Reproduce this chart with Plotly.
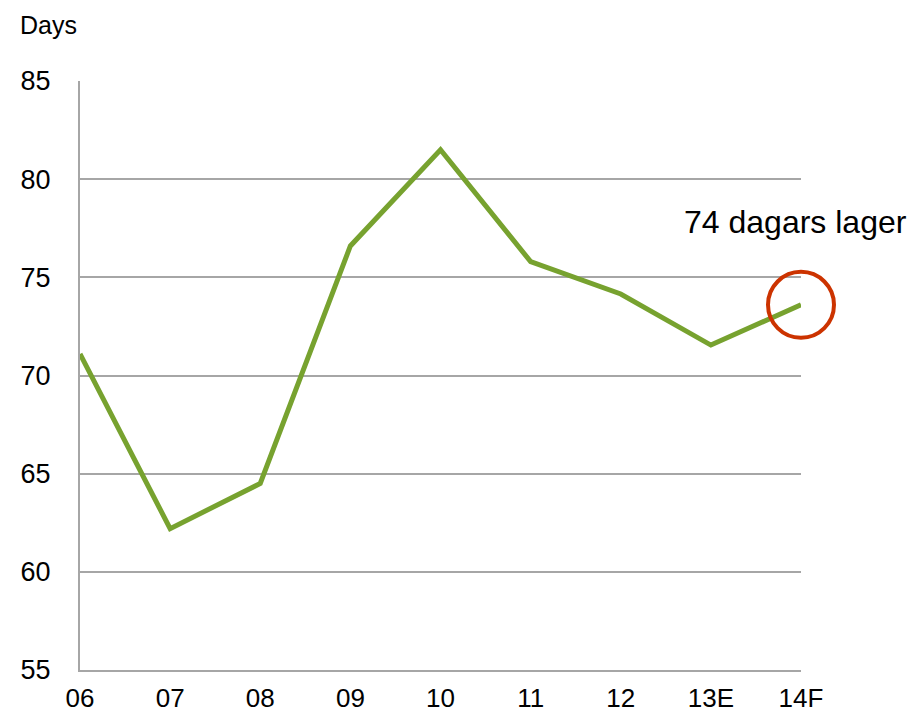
import plotly.graph_objects as go

years = ["06", "07", "08", "09", "10", "11", "12", "13E", "14F"]
days = [71.1, 62.2, 64.5, 76.6, 81.5, 75.8, 74.15, 71.55, 73.6]
y_ticks = [55, 60, 65, 70, 75, 80, 85]

FONT = "Liberation Sans, Arial, sans-serif"
GREEN = "#77A22F"
RED = "#CC3300"
GRID = "#A6A6A6"

fig = go.Figure()
fig.add_trace(go.Scatter(
    x=list(range(len(years))), y=days, mode="lines",
    line=dict(color=GREEN, width=5), hoverinfo="skip", showlegend=False,
))
fig.add_trace(go.Scatter(
    x=[len(years) - 1], y=[days[-1]], mode="markers",
    marker=dict(symbol="circle-open", size=66, color=RED, line=dict(color=RED, width=4)),
    cliponaxis=False, hoverinfo="skip", showlegend=False,
))

fig.update_layout(
    width=909, height=706,
    margin=dict(l=72, r=116, t=73, b=44, autoexpand=False),
    paper_bgcolor="white", plot_bgcolor="white",
    font=dict(family=FONT, size=27, color="black"),
    xaxis=dict(
        range=[0, len(years) - 1], tickmode="array",
        tickvals=list(range(len(years))), ticktext=years,
        showgrid=False, zeroline=False, showline=True, linecolor=GRID, linewidth=2,
        ticks="outside", ticklen=4, tickcolor="rgba(0,0,0,0)",
        tickfont=dict(size=26), automargin=False,
    ),
    yaxis=dict(
        range=[55, 85], tickvals=y_ticks,
        showgrid=True, gridcolor=GRID, gridwidth=2, zeroline=False,
        showline=True, linecolor=GRID, linewidth=2,
        ticks="outside", ticklen=22, tickcolor="rgba(0,0,0,0)",
        tickfont=dict(size=27), automargin=False,
    ),
    annotations=[
        dict(text="Days", xref="paper", yref="paper", x=-62 / 721, y=1 + 72 / 589,
             xanchor="left", yanchor="top", showarrow=False, font=dict(size=25)),
        dict(text="74 dagars lager", xref="x", yref="y", x=len(years) - 1, y=77.8,
             xshift=-6, xanchor="center", yanchor="middle", showarrow=False,
             font=dict(size=32)),
    ],
)

fig.write_html("out.html")
